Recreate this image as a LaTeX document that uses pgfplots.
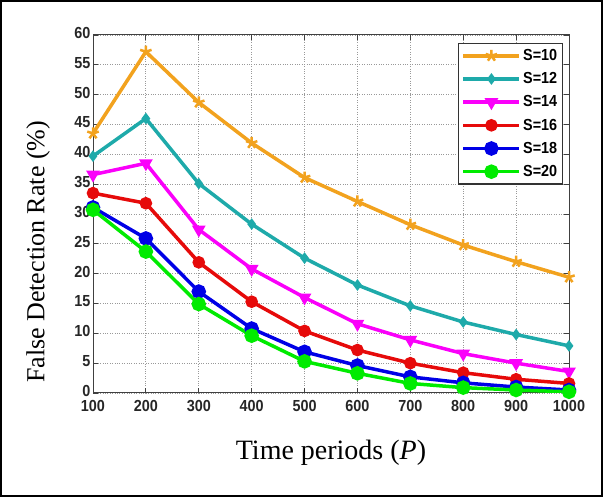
\documentclass[border=0pt]{standalone}
\usepackage{fontspec}
\setmainfont{Liberation Serif}
\newfontfamily\arialb{Liberation Sans}[FakeStretch=0.9]
\usepackage{pgfplots}
\pgfplotsset{compat=1.18}
\definecolor{cO}{RGB}{242,162,30}
\definecolor{cT}{RGB}{30,170,170}
\definecolor{cM}{RGB}{250,0,250}
\definecolor{cR}{RGB}{230,10,10}
\definecolor{cB}{RGB}{0,0,230}
\definecolor{cG}{RGB}{0,235,0}
\begin{document}
\begin{tikzpicture}[x=1pt,y=1pt]
\useasboundingbox (0,0) rectangle (603,497);
\draw[line width=2pt] (1,1) rectangle (602,496);
\begin{axis}[
  at={(93pt,104pt)}, anchor=south west,
  scale only axis, width=476pt, height=358pt,
  xmin=100, xmax=1000, ymin=0, ymax=60,
  xtick={100,200,...,1000}, ytick={0,5,...,60},
  /pgf/number format/1000 sep={},
  /pgf/number format/assume math mode=true,
  ticklabel style={font=\arialb\bfseries\fontsize{16}{16}\selectfont, text=black!85},
  xticklabel style={yshift=-7pt, inner sep=0.5pt},
  yticklabel style={inner sep=0.5pt, xshift=-2pt, yshift=2pt},
  grid=major,
  grid style={dotted, gray!80, line width=0.9pt},
  axis line style={gray!50!black, line width=1pt},
  tick align=inside, tick pos=both, major tick length=5pt,
  tick style={gray!50!black, line width=0.8pt},
  xlabel={Time periods (\textit{P})},
  ylabel={False Detection Rate (\%)},
  xlabel style={at={(axis description cs:0.5,-0.168)}, anchor=center, font=\fontsize{28}{30}\selectfont},
  ylabel style={at={(axis description cs:-0.1155,0.394)}, anchor=center, font=\fontsize{26}{28}\selectfont},
  legend style={at={(axis description cs:0.987,0.978)}, anchor=north east,
    draw=gray!40!black, line width=1.2pt, fill=white,
    font=\arialb\bfseries\fontsize{16}{18}\selectfont, row sep=6.5pt,
    inner xsep=3pt, inner ysep=4pt},
  legend cell align=left,
  legend image code/.code={\draw[mark repeat=2,mark phase=2,#1] plot coordinates {(0pt,0pt) (28pt,0pt) (56pt,0pt)};},
  every axis plot/.append style={line width=3.5pt, mark options={solid}},
]
\addplot[cO, mark=star, mark size=6pt, mark options={line width=2.5pt}] coordinates {
(100,43.5) (200,57.2) (300,48.7) (400,41.9) (500,36.1) (600,32.1) (700,28.2) (800,24.8) (900,22.0) (1000,19.4)};
\addplot[cT, mark=diamond*, mark size=3pt] coordinates {
(100,39.7) (200,46.0) (300,35.1) (400,28.3) (500,22.6) (600,18.1) (700,14.6) (800,11.9) (900,9.8) (1000,7.9)};
\addplot[cM, mark=triangle*, mark size=4.5pt, mark options={rotate=180}] coordinates {
(100,36.6) (200,38.5) (300,27.4) (400,20.8) (500,16.0) (600,11.6) (700,8.9) (800,6.6) (900,5.0) (1000,3.6)};
\addplot[cR, mark=*, mark size=4.5pt] coordinates {
(100,33.5) (200,31.8) (300,21.9) (400,15.3) (500,10.4) (600,7.2) (700,5.0) (800,3.4) (900,2.3) (1000,1.6)};
\addplot[cB, mark=*, mark size=5.5pt] coordinates {
(100,31.1) (200,25.9) (300,17.0) (400,10.8) (500,6.9) (600,4.6) (700,2.7) (800,1.7) (900,1.0) (1000,0.5)};
\addplot[cG, mark=*, mark size=5.5pt] coordinates {
(100,30.7) (200,23.7) (300,14.9) (400,9.6) (500,5.3) (600,3.3) (700,1.6) (800,0.9) (900,0.5) (1000,0.2)};
\legend{S=10,S=12,S=14,S=16,S=18,S=20}
\end{axis}
\end{tikzpicture}
\end{document}
